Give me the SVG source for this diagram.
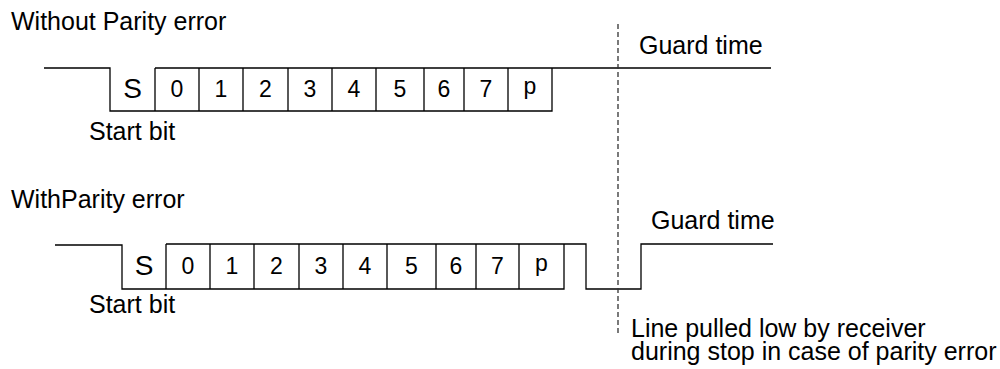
<svg xmlns="http://www.w3.org/2000/svg" width="1000" height="369" viewBox="0 0 1000 369">
<style>
text{font-family:"Liberation Sans",Arial,sans-serif;fill:#000}
.lbl{font-size:25px}
.bit{font-size:23px;text-anchor:middle}
.s{font-size:28px;text-anchor:middle}
.w{fill:none;stroke:#000;stroke-width:1.3}
.d{fill:none;stroke:#333;stroke-width:1.3;stroke-dasharray:5,3}
</style>
<rect width="1000" height="369" fill="#fff"/>
<g id="titles">
<text class="lbl" x="11" y="30">Without Parity error</text>
<text class="lbl" x="11" y="208">WithParity error</text>
</g>
<g id="wave1">
<path class="w" d="M44,68H110V111H552V68M155,68V111M199,68V111M243,68V111M288,68V111M332,68V111M376,68V111M424,68V111M464,68V111M508,68V111M155,68H771"/>
<text class="s" x="132.5" y="98">S</text>
<text class="bit" x="177" y="97">0</text>
<text class="bit" x="221" y="97">1</text>
<text class="bit" x="265.5" y="97">2</text>
<text class="bit" x="310" y="97">3</text>
<text class="bit" x="354" y="97">4</text>
<text class="bit" x="400" y="97">5</text>
<text class="bit" x="444" y="97">6</text>
<text class="bit" x="486" y="97">7</text>
<text class="bit" x="530" y="94">p</text>
<text class="lbl" x="89" y="140">Start bit</text>
<text class="lbl" x="639" y="54">Guard time</text>
</g>
<g id="wave2">
<path class="w" d="M55,245H122V289H564V244M166,244V289M210,244V289M254,244V289M299,244V289M343,244V289M387,244V289M436,244V289M476,244V289M519,244V289M166,244H586V289H641V244H773"/>
<text class="s" x="144" y="275">S</text>
<text class="bit" x="188" y="274">0</text>
<text class="bit" x="232" y="274">1</text>
<text class="bit" x="276.5" y="274">2</text>
<text class="bit" x="321" y="274">3</text>
<text class="bit" x="365" y="274">4</text>
<text class="bit" x="411.5" y="274">5</text>
<text class="bit" x="456" y="274">6</text>
<text class="bit" x="497.5" y="274">7</text>
<text class="bit" x="541.5" y="271">p</text>
<text class="lbl" x="89" y="313">Start bit</text>
<text class="lbl" x="651" y="229">Guard time</text>
</g>
<g id="connectors">
<line class="d" x1="618" y1="24" x2="618" y2="334"/>
</g>
<g id="note">
<text class="lbl" x="631" y="337">Line pulled low by receiver</text>
<text class="lbl" x="631" y="360">during stop in case of parity error</text>
</g>
</svg>
